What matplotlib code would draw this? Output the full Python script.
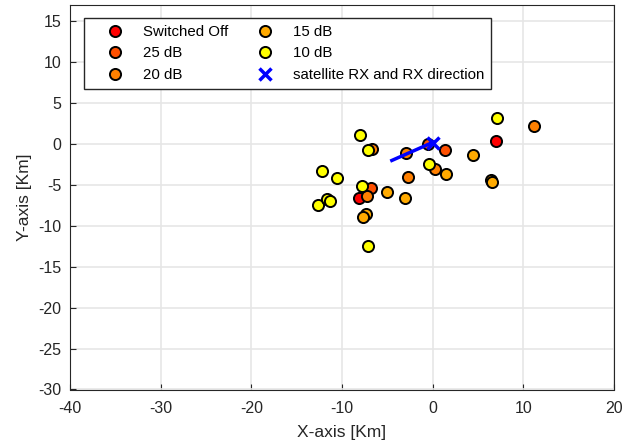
import numpy as np
import matplotlib
matplotlib.use('Agg')
from matplotlib import pyplot as plt

plt.rcParams['font.family'] = ['Liberation Sans', 'DejaVu Sans']
plt.rcParams['axes.unicode_minus'] = False

# node positions per power level [Km]
off_x = [6.98, -8.1]
off_y = [0.35, -6.6]

db25_x = [-0.5, 1.36, -6.84]
db25_y = [0.0, -0.75, -5.35]

db20_x = [11.2, -6.7, -2.94, 0.25, -2.76, -7.28]
db20_y = [2.2, -0.55, -1.07, -3.1, -4.07, -6.35]

db15_x = [4.48, 1.47, 6.4, 6.5, -5.0, -3.05, -7.4, -7.7]
db15_y = [-1.37, -3.7, -4.4, -4.6, -5.9, -6.6, -8.6, -8.9]

db10_x = [7.06, -8.0, -7.1, -0.37, -12.2, -10.5, -7.76, -12.6, -11.6, -11.3, -7.1]
db10_y = [3.2, 1.08, -0.75, -2.39, -3.35, -4.13, -5.07, -7.4, -6.66, -6.9, -12.4]

# satellite RX position and direction line
sat_x = 0.0
sat_y = 0.1
dir_x = [-4.5, 0.1]
dir_y = [-2.0, 0.25]

fig = plt.figure(figsize=(6.35, 4.47), dpi=100)
ax = fig.add_axes([70/635, 1 - 389.5/447, 544/635, 384.5/447])

ms = 8
groups = [
    (off_x, off_y, '#ff0000', 'Switched Off'),
    (db25_x, db25_y, '#ff5000', '25 dB'),
    (db20_x, db20_y, '#ff8000', '20 dB'),
    (db15_x, db15_y, '#ffaa00', '15 dB'),
    (db10_x, db10_y, '#ffff00', '10 dB'),
]
handles = []
for gx, gy, col, lab in groups:
    h, = ax.plot(gx, gy, 'o', color=col, markeredgecolor='black',
                 markeredgewidth=1.4, markersize=ms, label=lab, zorder=3)
    handles.append(h)

ax.plot(dir_x, dir_y, '-', color='blue', lw=2.5, zorder=4)
h_sat, = ax.plot(sat_x, sat_y, 'x', color='blue', markersize=8,
                 markeredgewidth=2.5, label='satellite RX and RX direction', zorder=5)
handles.append(h_sat)

ax.set_xlim(-40, 20)
ax.set_ylim(-30, 17)
ax.set_xticks(np.arange(-40, 21, 10))
ax.set_yticks(np.arange(-30, 16, 5))
ax.grid(True, color='#e6e6e6', lw=1.2)
ax.set_axisbelow(True)
ax.tick_params(direction='in', labelsize=11.5, length=4, color='#262626',
               labelcolor='#262626', pad=6)
ax.tick_params(axis='x', pad=8)
for s in ax.spines.values():
    s.set_color('#262626')

ax.set_xlabel('X-axis [Km]', fontsize=12.5, color='#262626', labelpad=7)
ax.set_ylabel('Y-axis [Km]', fontsize=12.5, color='#262626', labelpad=5)

leg = ax.legend(handles=handles, ncol=2, loc='upper left',
                bbox_to_anchor=(14/544, 1 - 13/384.5), borderaxespad=0,
                fontsize=10.8, fancybox=False, edgecolor='#262626', framealpha=1,
                handlelength=3.2, handletextpad=0.3, columnspacing=0.8,
                labelspacing=0.5, borderpad=0.45)
leg.get_frame().set_linewidth(1.0)

fig.savefig('out.png', dpi=100)
